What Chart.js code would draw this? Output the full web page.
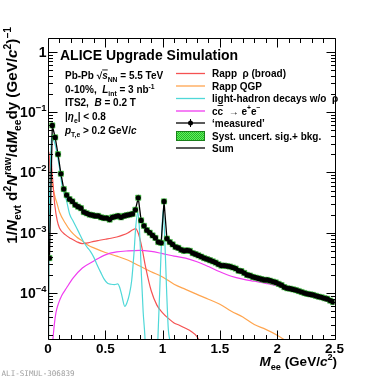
<!DOCTYPE html>
<html>
<head>
<meta charset="utf-8">
<script src="https://cdn.jsdelivr.net/npm/chart.js@4.4.0/dist/chart.umd.min.js"></script>
<style>
html, body { margin: 0; padding: 0; background: #fff; }
canvas { display: block; }
</style>
</head>
<body>
<canvas id="eeChart" width="374" height="377"></canvas>
<script>
// dielectron invariant mass spectrum, ALICE upgrade simulation
var binWidth = 0.025;
var measured = [
  3.8e-4, 0.060, 0.038, 0.020, 9.5e-3, 5.3e-3, 4.2e-3, 3.6e-3, 3.3e-3, 2.9e-3,
  2.7e-3, 2.55e-3, 2.2e-3, 2.1e-3, 2.0e-3, 1.95e-3, 1.9e-3, 1.9e-3, 1.8e-3, 1.75e-3,
  1.75e-3, 1.65e-3, 1.8e-3, 1.85e-3, 1.9e-3, 1.8e-3, 1.9e-3, 1.95e-3, 2.0e-3, 2.05e-3,
  2.4e-3, 3.8e-3, 1.6e-3, 1.3e-3, 1.1e-3, 1.0e-3, 9.0e-4, 8.2e-4, 7.0e-4, 6.8e-4,
  3.3e-3, 8.0e-4, 7.0e-4, 6.4e-4, 5.8e-4, 5.6e-4, 5.2e-4, 5.0e-4, 5.1e-4, 5.0e-4,
  4.6e-4, 4.4e-4, 4.2e-4, 4.0e-4, 3.8e-4, 3.65e-4, 3.5e-4, 3.35e-4, 3.2e-4, 3.0e-4,
  2.85e-4, 2.85e-4, 2.8e-4, 2.75e-4, 2.65e-4, 2.55e-4, 2.35e-4, 2.3e-4, 2.15e-4, 2.0e-4,
  1.95e-4, 1.85e-4, 1.8e-4, 1.75e-4, 1.7e-4, 1.65e-4, 1.65e-4, 1.6e-4, 1.55e-4, 1.5e-4,
  1.42e-4, 1.35e-4, 1.25e-4, 1.2e-4, 1.18e-4, 1.15e-4, 1.12e-4, 1.08e-4, 1.04e-4, 1.0e-4,
  9.7e-5, 9.5e-5, 9.3e-5, 9.0e-5, 8.7e-5, 8.5e-5, 8.2e-5, 8.0e-5, 7.5e-5, 7.1e-5
];

var rhoMass = [0.004, 0.01, 0.015, 0.02, 0.025, 0.03, 0.04, 0.05, 0.06, 0.08, 0.1, 0.15, 0.2, 0.25, 0.3, 0.35,
  0.4, 0.45, 0.5, 0.55, 0.6, 0.65, 0.7, 0.74, 0.765, 0.79, 0.82, 0.85, 0.9, 0.95, 1.0, 1.05, 1.1, 1.15,
  1.2, 1.25, 1.3, 1.35];
var rhoVals = [1.2e-5, 3e-3, 0.018, 0.022, 0.02, 0.014, 8e-3, 4.5e-3, 2.8e-3, 1.6e-3, 1.2e-3, 9.3e-4, 8e-4,
  7.1e-4, 6.6e-4, 6.8e-4, 7.2e-4, 7.5e-4, 7.8e-4, 8.1e-4, 8.5e-4, 9.1e-4, 1.0e-3, 1.12e-3, 1.17e-3, 9.5e-4,
  5.6e-4, 2.8e-4, 1.1e-4, 6.3e-5, 4.7e-5, 3.8e-5, 3.2e-5, 2.9e-5, 2.6e-5, 2.3e-5, 1.9e-5, 1.25e-5];

var qgpMass = [0.003, 0.008, 0.015, 0.025, 0.04, 0.06, 0.08, 0.1, 0.15, 0.2, 0.25, 0.3, 0.35, 0.4, 0.5, 0.6,
  0.7, 0.8, 0.9, 1.0, 1.1, 1.2, 1.3, 1.4, 1.5, 1.6, 1.7, 1.8, 1.9, 2.0, 2.1];
var qgpVals = [1.2e-5, 3e-3, 0.012, 0.01, 6.3e-3, 4.0e-3, 3.0e-3, 2.2e-3, 1.45e-3, 1.05e-3, 8.5e-4, 7.3e-4,
  6.2e-4, 5.6e-4, 4.7e-4, 4.1e-4, 3.5e-4, 2.8e-4, 2.25e-4, 1.85e-4, 1.4e-4, 1.15e-4, 9.5e-5, 7.9e-5,
  6.5e-5, 5.0e-5, 4.0e-5, 3.0e-5, 2.5e-5, 2.0e-5, 1.5e-5];

var lfMass = [0.004, 0.012, 0.02, 0.028, 0.036, 0.045, 0.06, 0.08, 0.1, 0.12, 0.14, 0.16, 0.19, 0.22, 0.25,
  0.28, 0.31, 0.34, 0.37, 0.4, 0.43, 0.46, 0.49, 0.52, 0.55, 0.58, 0.61, 0.625, 0.645, 0.67, 0.69, 0.71,
  0.73, 0.75, 0.765, 0.783, 0.795, 0.805, 0.815, 0.83, 0.845, 0.86, 0.95, 0.96, 0.975, 0.99, 1.005, 1.02,
  1.035, 1.05, 1.065, 1.08];
var lfVals = [1e-5, 2e-3, 0.012, 0.03, 0.042, 0.036, 0.03, 0.02, 0.012, 6.5e-3, 4.6e-3, 3.5e-3, 2.0e-3,
  1.55e-3, 1.2e-3, 9.2e-4, 7.1e-4, 5.8e-4, 4.9e-4, 3.9e-4, 2.9e-4, 2.2e-4, 1.7e-4, 1.45e-4, 1.4e-4,
  1.38e-4, 1.42e-4, 1.25e-4, 9e-5, 6.0e-5, 7.0e-5, 9.5e-5, 1.6e-4, 4.5e-4, 1.2e-3, 2.2e-3, 1.4e-3, 6e-4,
  2.0e-4, 5e-5, 2e-5, 5e-6, 5e-6, 2e-5, 1.1e-4, 7e-4, 2.4e-3, 7e-4, 1.1e-4, 2.5e-5, 1.5e-5, 5e-6];

var ccMass = [0.035, 0.045, 0.055, 0.07, 0.09, 0.12, 0.16, 0.22, 0.3, 0.4, 0.5, 0.6, 0.7, 0.8, 0.9, 1.0,
  1.1, 1.2, 1.3, 1.4, 1.5, 1.6, 1.7, 1.8, 1.9, 2.0, 2.1, 2.2, 2.3, 2.4, 2.5];
var ccVals = [1.2e-5, 1.9e-5, 3.0e-5, 4.8e-5, 6.6e-5, 9.1e-5, 1.2e-4, 1.78e-4, 2.6e-4, 3.4e-4, 4.3e-4,
  4.8e-4, 5.0e-4, 5.1e-4, 4.9e-4, 4.5e-4, 4.1e-4, 3.8e-4, 3.3e-4, 2.75e-4, 2.25e-4, 1.9e-4, 1.7e-4,
  1.57e-4, 1.45e-4, 1.32e-4, 1.15e-4, 1.0e-4, 8.9e-5, 7.6e-5, 6.6e-5];

var xTickLabels = ['0', '0.5', '1', '1.5', '2', '2.5'];
var yDecades = [0, -1, -2, -3, -4];

var FONT = '"Liberation Sans", Arial, Helvetica, sans-serif';
var RED = '#f55252', ORANGE = '#ffa54f', CYAN = '#4fd8d8', MAGENTA = '#f03cf0';

function pts(xs, ys) {
  return xs.map(function(m, i) { return { x: m, y: ys[i] }; });
}
var massCenters = measured.map(function(v, i) { return (i + 0.5) * binWidth; });

// rich text: parts = [{t, it, sub, sup}]
function partFont(p, size) {
  var s = (p.sub || p.sup) ? size * 0.68 : size;
  return (p.it ? 'italic ' : '') + 'bold ' + s.toFixed(1) + 'px ' + FONT;
}
function richWidth(ctx, parts, size) {
  var w = 0;
  parts.forEach(function(p) { ctx.font = partFont(p, size); w += ctx.measureText(p.t).width; });
  return w;
}
function drawRich(ctx, parts, x, y, size, align) {
  var w = richWidth(ctx, parts, size);
  if (align === 'right') x -= w;
  if (align === 'center') x -= w / 2;
  ctx.textBaseline = 'alphabetic';
  ctx.textAlign = 'left';
  parts.forEach(function(p) {
    ctx.font = partFont(p, size);
    var dy = p.sub ? size * 0.28 : (p.sup ? -size * 0.42 : 0);
    ctx.fillText(p.t, x, y + dy);
    if (p.bar) {
      ctx.fillRect(x, y - size * 0.95, ctx.measureText(p.t).width, 0.9);
    }
    x += ctx.measureText(p.t).width;
  });
  return w;
}

var rootFrame = {
  id: 'rootFrame',
  afterDatasetsDraw: function(chart) {
    var ctx = chart.ctx, a = chart.chartArea, xs = chart.scales.x, ys = chart.scales.y;
    ctx.save();
    ctx.strokeStyle = '#000';
    ctx.lineWidth = 1;
    ctx.beginPath();
    var L = Math.round(a.left) + 0.5, R = Math.round(a.right) + 0.5;
    var T = Math.round(a.top) + 0.5, B = Math.round(a.bottom) + 0.5;
    ctx.rect(L, T, R - L, B - T);
    for (var i = 0; i <= 25; i++) {
      var px = Math.round(xs.getPixelForValue(i / 10)) + 0.5;
      var len = i % 5 === 0 ? 9 : 4.5;
      ctx.moveTo(px, B); ctx.lineTo(px, B - len);
      ctx.moveTo(px, T); ctx.lineTo(px, T + len);
    }
    for (var e = -5; e <= 0; e++) {
      for (var k = 1; k <= 9; k++) {
        var v = k * Math.pow(10, e);
        if (v < ys.min || v > ys.max) continue;
        var py = Math.round(ys.getPixelForValue(v)) + 0.5;
        var ln = k === 1 ? 9 : 4.5;
        ctx.moveTo(L, py); ctx.lineTo(L + ln, py);
        ctx.moveTo(R, py); ctx.lineTo(R - ln, py);
      }
    }
    ctx.stroke();
    ctx.restore();
  },
  afterDraw: function(chart) {
    var ctx = chart.ctx, xs = chart.scales.x, ys = chart.scales.y;
    ctx.save();
    ctx.fillStyle = '#000';
    // x tick labels
    xTickLabels.forEach(function(lab) {
      drawRich(ctx, [{ t: lab }], xs.getPixelForValue(parseFloat(lab)), 353, 13.5, 'center');
    });
    // y tick labels
    yDecades.forEach(function(e) {
      var py = ys.getPixelForValue(Math.pow(10, e)) + 4.8;
      var parts = e === 0 ? [{ t: '1' }] : [{ t: '10' }, { t: '\u2212' + (-e), sup: true }];
      drawRich(ctx, parts, 46.5, py, 14, 'right');
    });
    // x title
    drawRich(ctx, [{ t: 'M', it: true }, { t: 'ee', sub: true }, { t: ' (GeV/' }, { t: 'c', it: true },
      { t: '2', sup: true }, { t: ')' }], 337, 366, 13.5, 'right');
    // y title (rotated)
    ctx.save();
    ctx.translate(17, 27);
    ctx.rotate(-Math.PI / 2);
    drawRich(ctx, [{ t: '1/' }, { t: 'N', it: true }, { t: 'evt', sub: true }, { t: ' d' }, { t: '2', sup: true },
      { t: 'N', it: true }, { t: 'raw', sup: true }, { t: '/d' }, { t: 'M', it: true }, { t: 'ee', sub: true },
      { t: 'dy (GeV/' }, { t: 'c', it: true }, { t: '2', sup: true }, { t: ')' }, { t: '\u22121', sup: true }],
      0, 0, 15.2, 'right');
    ctx.restore();

    // header text
    drawRich(ctx, [{ t: 'ALICE Upgrade Simulation' }], 60, 60, 14, 'left');
    var tx = 65;
    drawRich(ctx, [{ t: 'Pb-Pb ' }, { t: '\u221A' }, { t: 's', it: true, bar: true }, { t: 'NN', sub: true },
      { t: ' = 5.5 TeV' }], tx, 79, 10, 'left');
    drawRich(ctx, [{ t: '0-10%,  ' }, { t: 'L', it: true }, { t: 'int', sub: true }, { t: ' = 3 nb' },
      { t: '-1', sup: true }], tx, 93, 10, 'left');
    drawRich(ctx, [{ t: 'ITS2,  ' }, { t: 'B', it: true }, { t: ' = 0.2 T' }], tx, 106, 10, 'left');
    drawRich(ctx, [{ t: '|' }, { t: '\u03B7', it: true }, { t: 'e', sub: true }, { t: '| < 0.8' }], tx, 120, 10, 'left');
    drawRich(ctx, [{ t: 'p', it: true }, { t: 'T,e', sub: true }, { t: ' > 0.2 GeV/' }, { t: 'c', it: true }],
      tx, 134, 10, 'left');

    // legend
    var lx0 = 176, lx1 = 205, tx2 = 212;
    var rows = [
      { kind: 'line', color: RED, parts: [{ t: 'Rapp  \u03C1 (broad)' }] },
      { kind: 'line', color: ORANGE, parts: [{ t: 'Rapp QGP' }] },
      { kind: 'line', color: CYAN, parts: [{ t: 'light-hadron decays w/o  \u03C1' }] },
      { kind: 'line', color: MAGENTA, parts: [{ t: 'c' }, { t: 'c', bar: true }, { t: '  \u2192 e' }, { t: '+', sup: true },
        { t: 'e' }, { t: '\u2212', sup: true }] },
      { kind: 'marker', color: '#000', parts: [{ t: '\u2018measured\u2019' }] },
      { kind: 'box', color: '#3c3', parts: [{ t: 'Syst. uncert. sig.+ bkg.' }] },
      { kind: 'line', color: '#000', parts: [{ t: 'Sum' }] }
    ];
    var rowY = [73.5, 86, 98.5, 111, 123, 136, 148];
    var pat = document.createElement('canvas');
    pat.width = 2; pat.height = 2;
    var pc = pat.getContext('2d');
    pc.fillStyle = '#5ef55e'; pc.fillRect(0, 0, 2, 2);
    pc.fillStyle = '#27b327'; pc.fillRect(0, 0, 1, 1); pc.fillRect(1, 1, 1, 1);
    rows.forEach(function(r, i) {
      var cy = rowY[i];
      if (r.kind === 'box') {
        ctx.fillStyle = ctx.createPattern(pat, 'repeat');
        ctx.fillRect(lx0, cy - 4.5, lx1 - lx0, 9);
        ctx.strokeStyle = '#1a801a';
        ctx.lineWidth = 1;
        ctx.strokeRect(lx0 + 0.5, cy - 4.5, lx1 - lx0 - 1, 9);
      } else {
        ctx.strokeStyle = r.color;
        ctx.lineWidth = 1.3;
        ctx.beginPath();
        ctx.moveTo(lx0, cy); ctx.lineTo(lx1, cy);
        ctx.stroke();
        if (r.kind === 'marker') {
          ctx.fillStyle = '#000';
          ctx.beginPath();
          ctx.arc((lx0 + lx1) / 2, cy, 2.5, 0, Math.PI * 2);
          ctx.fill();
          ctx.fillRect((lx0 + lx1) / 2 - 0.5, cy - 4, 1, 8);
        }
      }
      ctx.fillStyle = '#000';
      drawRich(ctx, r.parts, tx2, cy + 3.6, 10, 'left');
    });

    // figure id
    ctx.fillStyle = '#a0a0a0';
    ctx.font = '7.6px "DejaVu Sans Mono", monospace';
    ctx.textAlign = 'left';
    ctx.textBaseline = 'alphabetic';
    ctx.fillText('ALI-SIMUL-306839', 1.5, 376);
    ctx.restore();
  }
};

function curve(label, xs, ys, color, order) {
  return {
    label: label,
    data: pts(xs, ys),
    borderColor: color,
    borderWidth: 1.2,
    pointRadius: 0,
    fill: false,
    cubicInterpolationMode: 'monotone',
    order: order
  };
}

var ctx = document.getElementById('eeChart').getContext('2d');
var eeChart = new Chart(ctx, {
  type: 'line',
  data: {
    datasets: [
      {
        label: '\u2018measured\u2019',
        data: pts(massCenters, measured),
        showLine: false,
        pointStyle: 'circle',
        pointRadius: 2.6,
        pointBackgroundColor: '#000',
        pointBorderColor: '#000',
        pointBorderWidth: 0,
        order: 0
      },
      {
        label: 'Syst. uncert. sig.+ bkg.',
        data: pts(massCenters, measured),
        showLine: false,
        pointStyle: 'rect',
        pointRadius: 3.7,
        pointBackgroundColor: '#3fd83f',
        pointBorderColor: '#2a9a2a',
        pointBorderWidth: 0.5,
        order: 1
      },
      {
        label: 'Sum',
        data: pts(massCenters, measured),
        borderColor: '#000',
        borderWidth: 1.3,
        pointRadius: 0,
        tension: 0,
        order: 2
      },
      curve('light-hadron decays w/o \u03C1', lfMass, lfVals, CYAN, 3),
      curve('cc \u2192 e+e-', ccMass, ccVals, MAGENTA, 4),
      curve('Rapp \u03C1 (broad)', rhoMass, rhoVals, RED, 5),
      curve('Rapp QGP', qgpMass, qgpVals, ORANGE, 6)
    ]
  },
  options: {
    responsive: false,
    animation: false,
    devicePixelRatio: 1,
    events: [],
    layout: { padding: { left: 48, right: 39.5, top: 38, bottom: 38 } },
    scales: {
      x: { type: 'linear', min: 0, max: 2.5, display: false },
      y: { type: 'logarithmic', min: 1.73e-5, max: 1.69, display: false }
    },
    plugins: { legend: { display: false }, tooltip: { enabled: false } }
  },
  plugins: [rootFrame]
});
</script>
</body>
</html>
